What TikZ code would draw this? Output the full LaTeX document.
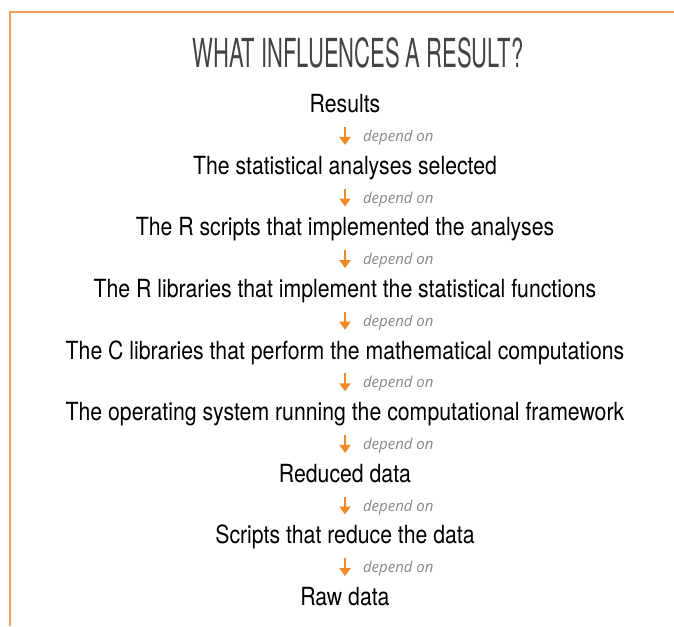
\documentclass[tikz,border=0pt]{standalone}
\usepackage{fontspec}
\setmainfont{TeX Gyre Heros}
\newfontfamily\itemfont[FakeStretch=0.85]{TeX Gyre Heros}
\newfontfamily\titlefont[FakeStretch=0.55]{TeX Gyre Heros}
\newfontfamily\notefont{Open Sans}
\usetikzlibrary{arrows.meta,positioning}

\definecolor{frameorange}{RGB}{245,160,90}
\definecolor{arroworange}{RGB}{242,138,36}
\definecolor{notegray}{RGB}{136,136,136}
\definecolor{titlegray}{RGB}{68,68,68}

\begin{document}
\begin{tikzpicture}[x=1pt, y=-1pt, node distance=37.2pt,
    item/.style={inner sep=0pt, text height=18pt, text depth=6pt,
      font=\itemfont\fontsize{25}{30}\selectfont},
    dep/.style={color=arroworange, line width=2pt,
      -{Triangle[length=8pt,width=11pt]}, shorten <=8pt, shorten >=11.2pt},
    note/.style={anchor=west, xshift=17pt, inner sep=0pt, text=notegray,
      font=\notefont\itshape\fontsize{15}{18}\selectfont}]
    \useasboundingbox (0,0) rectangle (674,626);

    % Frame
    \draw[draw=frameorange, line width=1.6pt] (9.8,626) -- (9.8,11.8) -- (674,11.8);

    % Title
    \node[anchor=base, inner sep=0pt, text=titlegray,
      font=\titlefont\fontsize{40}{44}\selectfont] (title) at (358,67.7)
      {WHAT INFLUENCES A RESULT?};

    % Define layers
    \node[item, anchor=base] (res) at (345,112.7) {Results};
    \node[item] (ana) [below=of res] {The statistical analyses selected};
    \node[item] (rscr) [below=of ana] {The R scripts that implemented the analyses};
    \node[item] (rlib) [below=of rscr] {The R libraries that implement the statistical functions};
    \node[item] (clib) [below=of rlib] {The C libraries that perform the mathematical computations};
    \node[item] (os) [below=of clib] {The operating system running the computational framework};
    \node[item] (red) [below=of os] {Reduced data};
    \node[item] (redscr) [below=of red] {Scripts that reduce the data};
    \node[item] (raw) [below=of redscr] {Raw data};

    % Define dependencies
    \path[dep]
    (res) edge node[note] {depend on} (ana)
    (ana) edge node[note] {depend on} (rscr)
    (rscr) edge node[note] {depend on} (rlib)
    (rlib) edge node[note] {depend on} (clib)
    (clib) edge node[note] {depend on} (os)
    (os) edge node[note] {depend on} (red)
    (red) edge node[note] {depend on} (redscr)
    (redscr) edge node[note] {depend on} (raw);

\end{tikzpicture}
\end{document}
